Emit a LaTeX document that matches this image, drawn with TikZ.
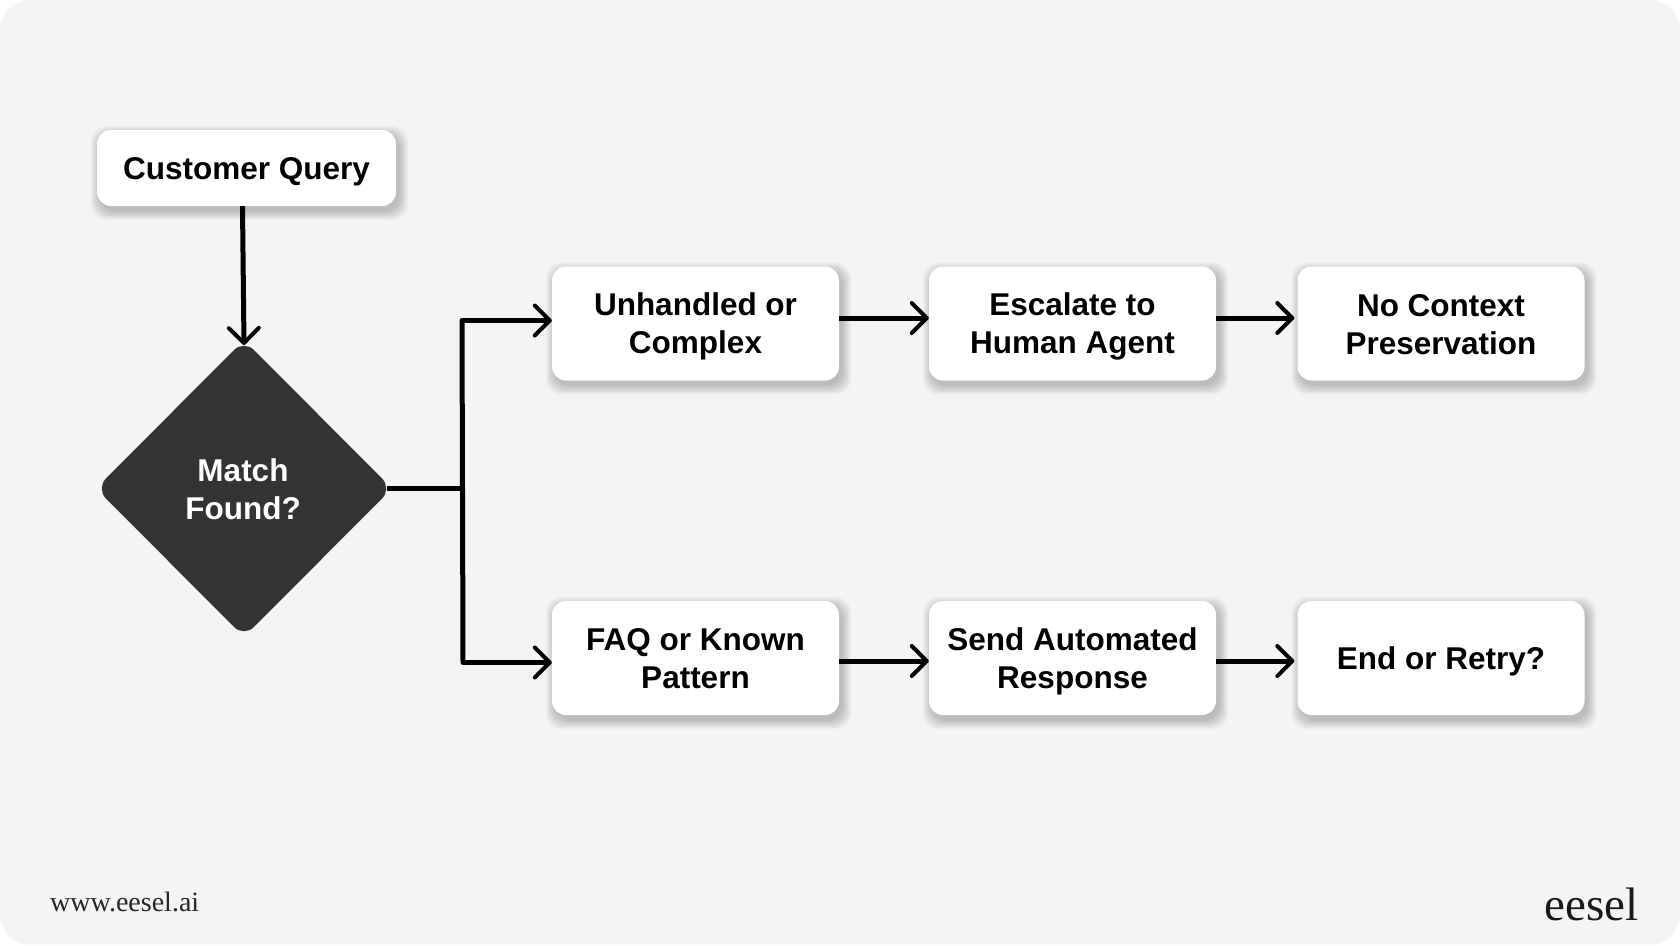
\documentclass[tikz,border=0pt]{standalone}
\usepackage{fontspec}
\setmainfont{Liberation Sans}
\newfontfamily\footserif{Liberation Serif}
\usetikzlibrary{arrows.meta,shapes.geometric,backgrounds,calc}
\definecolor{pagebg}{HTML}{F5F4F2}
\definecolor{darkfill}{HTML}{333333}
\newcommand{\labelfont}{\fontsize{31.5}{38}\selectfont\bfseries}
\newcommand{\lstrut}{\rule[-6pt]{0pt}{35pt}}
\tikzset{
  boxnode/.style={fill=white,rounded corners=14pt,inner sep=0pt,align=center,
    minimum width=287pt,minimum height=114pt,font=\labelfont,text=black},
  link/.style={line width=5pt,draw=black,line cap=butt,line join=round},
  arrowlink/.style={link,-{Straight Barb[length=15pt,width=30pt,line width=4pt,round]}},
}
\begin{document}
\begin{tikzpicture}[x=1pt,y=-1pt]
\useasboundingbox (0,0) rectangle (1680,945);
\coordinate (rowa) at (0,318);
\coordinate (rowb) at (0,661);

\node[boxnode,minimum width=299pt,minimum height=76pt] (query) at (246.5,168) {\lstrut Customer Query};
\node[boxnode] (unh) at (695.5,323.5) {\lstrut Unhandled or\\\lstrut Complex};
\node[boxnode] (esc) at (1072.5,323.5) {\lstrut Escalate to\\\lstrut Human Agent};
\node[boxnode] (noc) at (1441,323.5) {\lstrut No Context\\\lstrut Preservation};
\node[boxnode] (faq) at (695.5,658) {\lstrut FAQ or Known\\\lstrut Pattern};
\node[boxnode] (snd) at (1072.5,658) {\lstrut Send Automated\\\lstrut Response};
\node[boxnode] (end) at (1441,658) {\lstrut End or Retry?};
\fill[darkfill,rounded corners=14pt] (244,340) -- (392,488.5) -- (244,637) -- (96,488.5) -- cycle;
\node[font=\labelfont,text=white,align=center,inner sep=0pt] (match) at (243,489) {\lstrut Match\\\lstrut Found?};
\coordinate (dn) at (244,345);
\coordinate (de) at (387,488.5);
\coordinate (junc) at (463,488.5);
\coordinate (jtop) at (462,320.5);
\coordinate (jbot) at (463,662.5);

\begin{pgfonlayer}{background}
  \fill[pagebg,rounded corners=30pt] (0,0) rectangle (1680,945);
  \foreach \n in {query,unh,esc,noc,faq,snd,end}{
    \foreach \k in {0,...,9}{
      \fill[black,opacity=0.022,rounded corners=16pt]
        ($(\n.north west)+(3-\k,5-\k)$) rectangle ($(\n.south east)+(3+\k,5+\k)$);
    }
  }
\end{pgfonlayer}

\draw[arrowlink] (query.south -| dn) ++(-1.5,0) -- (dn);
\draw[link] (de) -- (junc);
\draw[arrowlink] (jtop) -- (unh.west |- jtop);
\draw[arrowlink] (jbot) -- (faq.west |- jbot);
\draw[link,line cap=round] (jtop) -- (jbot);
\draw[arrowlink] (unh.east |- rowa) -- (esc.west |- rowa);
\draw[arrowlink,shorten >=3pt] (esc.east |- rowa) -- (noc.west |- rowa);
\draw[arrowlink] (faq.east |- rowb) -- (snd.west |- rowb);
\draw[arrowlink,shorten >=3pt] (snd.east |- rowb) -- (end.west |- rowb);

\node[font=\footserif\fontsize{28}{30}\selectfont,text=black!85,anchor=base west,inner sep=0pt] (web) at (50,911) {www.eesel.ai};
\node[font=\footserif\fontsize{47}{50}\selectfont,text=black!90,anchor=base east,inner sep=0pt] (logo) at (1639,920) {eesel};
\end{tikzpicture}
\end{document}
